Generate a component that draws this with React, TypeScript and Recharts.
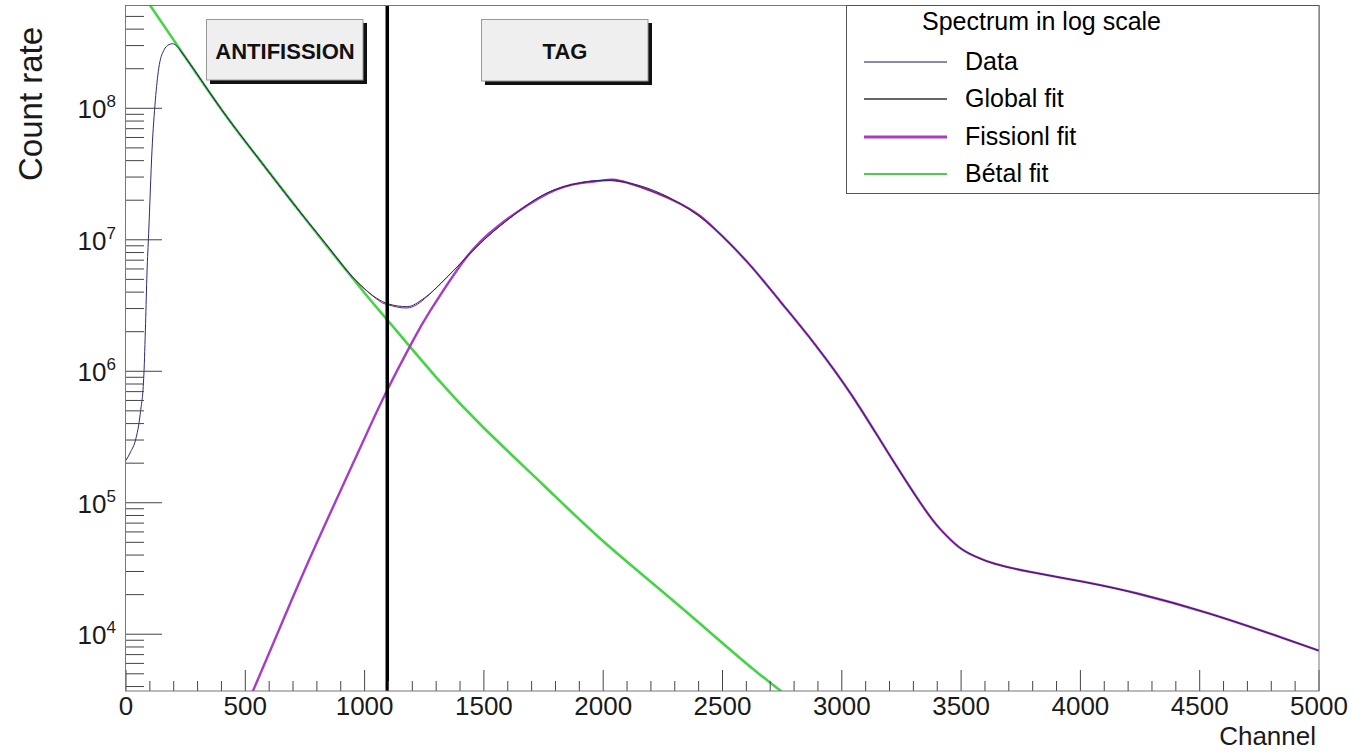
import { LineChart, Line, XAxis, YAxis, ReferenceLine } from 'recharts'

// measured spectrum (channel -> count rate)
const dataChannels = [0, 20, 40, 60, 75, 82, 88, 95, 109, 123, 137, 158, 180, 194, 215, 230, 300, 400, 550, 700, 850, 950, 1050, 1100, 1178, 1250, 1350, 1485, 1600, 1750, 1900, 1950, 2000, 2050, 2100, 2323, 2463, 2603, 2742, 2890, 3041, 3191, 3341, 3416, 3491, 3560, 3640, 3790, 4015, 4239, 4538, 4838, 5000]
const dataCounts = [2.1e5, 2.45e5, 3.0e5, 4.8e5, 9.5e5, 2.3e6, 5.6e6, 1.12e7, 4.8e7, 1.15e8, 2.0e8, 2.75e8, 3.05e8, 3.1e8, 2.95e8, 2.72e8, 1.8e8, 9.8e7, 4.27e7, 1.9e7, 8.7e6, 5.2e6, 3.6e6, 3.25e6, 3.1e6, 3.6e6, 5.3e6, 9.4e6, 1.42e7, 2.2e7, 2.7e7, 2.8e7, 2.83e7, 2.8e7, 2.72e7, 1.88e7, 1.23e7, 6.8e6, 3.4e6, 1.58e6, 6.6e5, 2.45e5, 9.3e4, 6.2e4, 4.6e4, 3.9e4, 3.44e4, 2.98e4, 2.5e4, 2.04e4, 1.44e4, 9.5e3, 7.5e3]

const globalChannels = [230, 300, 400, 550, 700, 850, 950, 1050, 1100, 1178, 1250, 1350, 1485, 1600, 1750, 1900, 2000, 2100, 2323, 2463, 2603, 2742, 2890, 3041, 3191, 3341, 3416, 3491, 3560, 3640, 3790, 4015, 4239, 4538, 4838, 5000]
const globalCounts = [2.72e8, 1.8e8, 9.8e7, 4.27e7, 1.9e7, 8.7e6, 5.2e6, 3.55e6, 3.2e6, 3.03e6, 3.55e6, 5.3e6, 9.4e6, 1.42e7, 2.2e7, 2.7e7, 2.83e7, 2.72e7, 1.88e7, 1.23e7, 6.8e6, 3.4e6, 1.58e6, 6.6e5, 2.45e5, 9.3e4, 6.2e4, 4.6e4, 3.9e4, 3.44e4, 2.98e4, 2.5e4, 2.04e4, 1.44e4, 9.5e3, 7.5e3]

const fissionChannels = [500, 600, 731, 850, 919, 1000, 1095, 1205, 1276, 1415, 1556, 1766, 1905, 2000, 2100, 2323, 2463, 2603, 2742, 2890, 3041, 3191, 3341, 3416, 3491, 3560, 3640, 3790, 4015, 4239, 4538, 4838, 5000]
const fissionCounts = [2.7e3, 7.2e3, 2.6e4, 7.9e4, 1.48e5, 3.1e5, 7.2e5, 1.74e6, 2.9e6, 6.9e6, 1.26e7, 2.24e7, 2.7e7, 2.83e7, 2.72e7, 1.88e7, 1.23e7, 6.8e6, 3.4e6, 1.58e6, 6.6e5, 2.45e5, 9.3e4, 6.2e4, 4.6e4, 3.9e4, 3.44e4, 2.98e4, 2.5e4, 2.04e4, 1.44e4, 9.5e3, 7.5e3]

const betaChannels = [80, 200, 400, 550, 700, 850, 1000, 1100, 1300, 1500, 1750, 2000, 2300, 2600, 2800]
const betaCounts = [6.9e8, 3.3e8, 9.8e7, 4.27e7, 1.9e7, 8.6e6, 3.94e6, 2.4e6, 9.0e5, 3.7e5, 1.36e5, 5.1e4, 1.76e4, 6.0e3, 3.1e3]

const cutChannel = 1095
const xMajorTicks = [0, 500, 1000, 1500, 2000, 2500, 3000, 3500, 4000, 4500, 5000]
const yDecades = [1e3, 1e4, 1e5, 1e6, 1e7, 1e8]
const yDomain = [3700, 6e8]

const legendItems = [
  { name: 'Data', color: '#8a8aa6', width: 2 },
  { name: 'Global fit', color: '#666', width: 2 },
  { name: 'Fissionl fit', color: '#a83cc4', width: 3 },
  { name: 'Bétal fit', color: '#4ccc4c', width: 2 },
]

const toRows = (xs: number[], ys: number[]) => xs.map((ch, i) => ({ ch, v: ys[i] }))

const xTicks: number[] = []
xMajorTicks.forEach((t) => {
  xTicks.push(t)
  if (t < 5000) for (let k = 1; k < 5; k++) xTicks.push(t + k * 100)
})
const yTicks: number[] = []
yDecades.forEach((d) => {
  for (let m = 1; m < 10; m++) {
    const v = m * d
    if (v >= yDomain[0] && v < yDomain[1]) yTicks.push(v)
  }
})

const FONT = '"Liberation Sans", Arial, Helvetica, sans-serif'

function XTick({ x, y, payload }: any) {
  const v = payload.value
  const major = v % 500 === 0
  return (
    <g>
      <line x1={x} x2={x} y1={y} y2={y - (major ? 21 : 10)} stroke="#444" />
      {major && (
        <text x={x} y={y + 24} textAnchor="middle" fontSize={26} fill="#1a1a1a" fontFamily={FONT}>
          {v}
        </text>
      )}
    </g>
  )
}

function YTick({ x, y, payload }: any) {
  const v = payload.value
  const exp = Math.round(Math.log10(v))
  const major = Math.abs(v - Math.pow(10, exp)) < v * 1e-6
  return (
    <g>
      <line x1={x} x2={x + (major ? 36 : 18)} y1={y} y2={y} stroke="#444" />
      {major && (
        <text x={x - 10} y={y + 10} textAnchor="end" fontSize={26} fill="#1a1a1a" fontFamily={FONT}>
          10
          <tspan dy={-11} fontSize={17}>
            {exp}
          </tspan>
        </text>
      )}
    </g>
  )
}

export default function App() {
  return (
    <div style={{ position: 'absolute', left: 0, top: 0, width: 1355, height: 753, background: '#fff', fontFamily: FONT }}>
      <LineChart width={1355} height={753} margin={{ top: 6, right: 36, bottom: 0, left: 0 }}>
        <XAxis
          type="number"
          dataKey="ch"
          domain={[0, 5000]}
          ticks={xTicks}
          interval={0}
          tickSize={0}
          tickMargin={0}
          tickLine={false}
          axisLine={false}
          height={62}
          tick={(p: any) => <XTick {...p} />}
          allowDataOverflow
        />
        <YAxis
          type="number"
          scale="log"
          domain={yDomain}
          ticks={yTicks}
          interval={0}
          tickSize={0}
          tickMargin={0}
          tickLine={false}
          axisLine={false}
          width={126}
          tick={(p: any) => <YTick {...p} />}
          allowDataOverflow
        />
        <Line data={toRows(betaChannels, betaCounts)} dataKey="v" type="natural" stroke="#45d445" strokeWidth={2.6} dot={false} isAnimationActive={false} />
        <Line data={toRows(fissionChannels, fissionCounts)} dataKey="v" type="natural" stroke="#a83cc4" strokeWidth={2.4} dot={false} isAnimationActive={false} />
        <Line data={toRows(globalChannels, globalCounts)} dataKey="v" type="natural" stroke="#8a1c34" strokeWidth={1} dot={false} isAnimationActive={false} />
        <Line data={toRows(dataChannels, dataCounts)} dataKey="v" type="monotone" stroke="#2a2a7e" strokeWidth={1} dot={false} isAnimationActive={false} />
        <ReferenceLine x={cutChannel} stroke="#000" strokeWidth={3.5} />
      </LineChart>

      <svg width={1355} height={753} style={{ position: 'absolute', left: 0, top: 0, pointerEvents: 'none' }}>
        {/* frame */}
        <rect x={125.5} y={5.5} width={1193.5} height={685.5} fill="none" stroke="#777" />

        {/* ANTIFISSION box */}
        <rect x={210} y={23} width={157} height={61} fill="#111" />
        <rect x={206.5} y={19.5} width={156.5} height={60.5} fill="#efefef" stroke="#999" />
        <text x={285} y={59} textAnchor="middle" fontSize={22} fontWeight="bold" fill="#111" fontFamily={FONT}>
          ANTIFISSION
        </text>

        {/* TAG box */}
        <rect x={485} y={23} width={167} height={62} fill="#111" />
        <rect x={481.5} y={19.5} width={166.5} height={61.5} fill="#efefef" stroke="#999" />
        <text x={565} y={59} textAnchor="middle" fontSize={22} fontWeight="bold" fill="#111" fontFamily={FONT}>
          TAG
        </text>

        {/* legend */}
        <rect x={846.5} y={5.5} width={472.5} height={188} fill="#fff" stroke="#555" />
        <text x={922} y={30} fontSize={25} fill="#000" fontFamily={FONT}>
          Spectrum in log scale
        </text>
        {legendItems.map((it, i) => {
          const cy = [62, 99, 137, 174][i]
          return (
            <g key={it.name}>
              <line x1={864} x2={947} y1={cy} y2={cy} stroke={it.color} strokeWidth={it.width} />
              <text x={965} y={cy + 8} fontSize={25} fill="#000" fontFamily={FONT}>
                {it.name}
              </text>
            </g>
          )
        })}

        {/* axis titles */}
        <text transform="translate(42,181) rotate(-90)" fontSize={33} fill="#1a1a1a" fontFamily={FONT}>
          Count rate
        </text>
        <text x={1316} y={745} textAnchor="end" fontSize={26} fill="#1a1a1a" fontFamily={FONT}>
          Channel
        </text>
      </svg>
    </div>
  )
}
